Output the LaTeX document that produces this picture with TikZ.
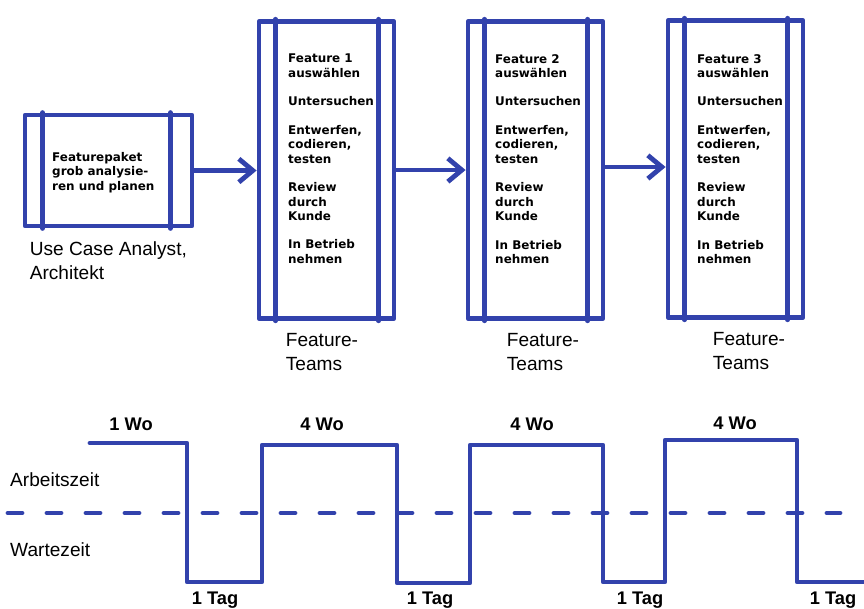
\documentclass[tikz,border=0pt]{standalone}
\usepackage{fontspec}
\setmainfont{Liberation Sans}
\newfontfamily\stepfont{DejaVu Sans}
\usetikzlibrary{arrows.meta, positioning}
\definecolor{markerblue}{RGB}{50, 66, 172}

\newcommand{\featuresteps}[1]{Feature #1\\auswählen\\[12pt]Untersuchen\\[12pt]Entwerfen,\\codieren,\\testen\\[12pt]Review\\durch\\Kunde\\[12pt]In Betrieb\\nehmen}

\tikzset{
  marker/.style={draw=markerblue, line width=4.1pt, line join=round, line cap=round},
  pointer/.style={marker, -{Straight Barb[length=4.2mm, width=7mm]}},
  phasebox/.style={marker, rectangle, inner sep=0pt, minimum width=40.5mm, minimum height=89mm},
  steptext/.style={align=left, anchor=north west, inner sep=0pt, font=\stepfont\bfseries\fontsize{10.2}{12.3}\selectfont},
  caption/.style={align=left, inner sep=0pt, font=\fontsize{16.3}{20.5}\selectfont},
  durlabel/.style={inner sep=0pt, font=\bfseries\fontsize{15.6}{18}\selectfont}
}

\begin{document}
\begin{tikzpicture}[x=0.3mm, y=-0.3mm]
  \useasboundingbox (0,0) rectangle (864,608);

  % Featurepaket
  \node[phasebox, minimum width=50.1mm, minimum height=33.3mm] (paket) at (108.5,170.5) {};
  \draw[marker] ([xshift=6mm]paket.north west) -- ([xshift=6mm]paket.south west);
  \draw[marker] ([xshift=-7.2mm]paket.north east) -- ([xshift=-7.2mm]paket.south east);
  \node[steptext] (paketText) at (52,152) {Featurepaket\\grob analysie-\\ren und planen};
  \node[caption, below right=4mm and 2.1mm of paket.south west] (analyst) {Use Case Analyst,\\Architekt};

  % Feature boxes
  \node[phasebox] (feat1) at (326.5,170) {};
  \node[phasebox] (feat2) at (535.5,170) {};
  \node[phasebox] (feat3) at (735.5,169) {};
  \foreach \b in {feat1, feat2, feat3} {
    \draw[marker] ([xshift=5.7mm]\b.north west) -- ([xshift=5.7mm]\b.south west);
    \draw[marker] ([xshift=-5.3mm]\b.north east) -- ([xshift=-5.3mm]\b.south east);
  }
  \node[steptext] (feat1Text) at (288,54) {\featuresteps{1}};
  \node[steptext] (feat2Text) at (495,54) {\featuresteps{2}};
  \node[steptext] (feat3Text) at (697,54) {\featuresteps{3}};
  \node[caption, below right=3.7mm and 8.7mm of feat1.south west] (team1) {Feature-\\Teams};
  \node[caption, below right=3.7mm and 12.3mm of feat2.south west] (team2) {Feature-\\Teams};
  \node[caption, below right=3.7mm and 14.1mm of feat3.south west] (team3) {Feature-\\Teams};

  % Arrows
  \draw[pointer] (paket.east) -- (paket.east -| feat1.west);
  \draw[pointer] (feat1.east) -- (feat1.east -| feat2.west);
  \draw[pointer] ([yshift=0.9mm]feat2.east) -- ([yshift=0.9mm]feat2.east -| feat3.west);

  % Zeitachse
  \draw[marker, dash pattern=on 4.2mm off 7.5mm] (8,513) -- (840,513);
  \draw[marker] (90,443) -- (187,443) -- (187,582) -- (262,582) -- (262,445) -- (397,445)
    -- (397,583) -- (470,583) -- (470,445) -- (603,445) -- (603,582) -- (665,582)
    -- (665,440) -- (797,440) -- (797,582) -- (868,582);
  \node[caption, anchor=west] (arbeit) at (10,480) {Arbeitszeit};
  \node[caption, anchor=west] (warte) at (10,550) {Wartezeit};
  \node[durlabel] (wo1) at (131,424) {1 Wo};
  \node[durlabel] (wo2) at (322,424) {4 Wo};
  \node[durlabel] (wo3) at (532,424) {4 Wo};
  \node[durlabel] (wo4) at (735,423) {4 Wo};
  \node[durlabel] (tag1) at (215,600) {1 Tag};
  \node[durlabel] (tag2) at (430,600) {1 Tag};
  \node[durlabel] (tag3) at (640,600) {1 Tag};
  \node[durlabel] (tag4) at (833,600) {1 Tag};
\end{tikzpicture}
\end{document}
